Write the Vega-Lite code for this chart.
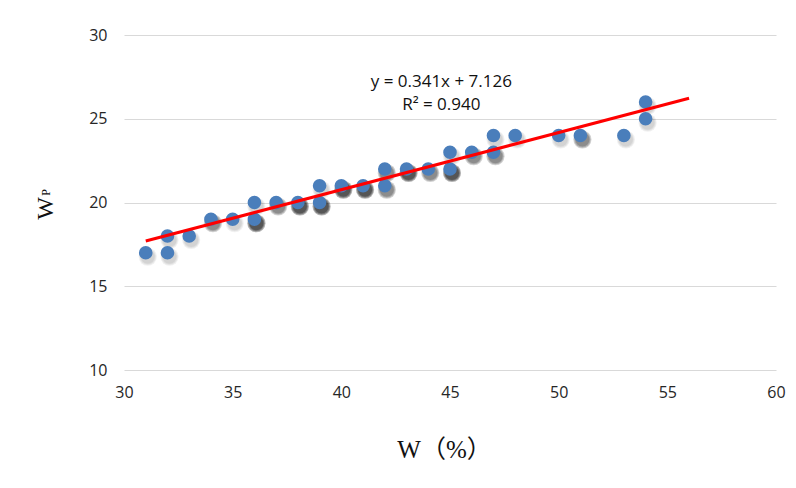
{
  "$schema": "https://vega.github.io/schema/vega-lite/v6.json",
  "width": 652,
  "height": 335,
  "autosize": "none",
  "padding": {"left": 124, "top": 35, "right": 20, "bottom": 118},
  "background": "white",
  "config": {"view": {"stroke": null}},
  "title": {"text": "P", "orient": "left", "anchor": "middle", "font": "Liberation Serif", "fontSize": 12, "fontWeight": "normal", "color": "#111111", "offset": -19, "dx": 10},
  "datasets": {
    "pts": [
      {"w": 31, "wp": 17, "n": 1}, {"w": 32, "wp": 17, "n": 1}, {"w": 32, "wp": 18, "n": 1},
      {"w": 33, "wp": 18, "n": 1}, {"w": 34, "wp": 19, "n": 2}, {"w": 35, "wp": 19, "n": 1},
      {"w": 36, "wp": 19, "n": 3}, {"w": 36, "wp": 20, "n": 1}, {"w": 37, "wp": 20, "n": 2},
      {"w": 38, "wp": 20, "n": 3}, {"w": 39, "wp": 20, "n": 3}, {"w": 39, "wp": 21, "n": 1},
      {"w": 40, "wp": 21, "n": 3}, {"w": 41, "wp": 21, "n": 3}, {"w": 42, "wp": 21, "n": 2},
      {"w": 42, "wp": 22, "n": 2}, {"w": 43, "wp": 22, "n": 3}, {"w": 44, "wp": 22, "n": 2},
      {"w": 45, "wp": 22, "n": 3}, {"w": 45, "wp": 23, "n": 1}, {"w": 46, "wp": 23, "n": 2},
      {"w": 47, "wp": 23, "n": 2}, {"w": 47, "wp": 24, "n": 1}, {"w": 48, "wp": 24, "n": 1},
      {"w": 50, "wp": 24, "n": 1}, {"w": 51, "wp": 24, "n": 2}, {"w": 53, "wp": 24, "n": 1},
      {"w": 54, "wp": 25, "n": 1}, {"w": 54, "wp": 26, "n": 1}
    ],
    "fit": [{"w": 31, "wp": 17.697}, {"w": 56, "wp": 26.222}],
    "eq": [{"w": 44.6, "wp": 27.2, "label": "y = 0.341x + 7.126"}, {"w": 44.6, "wp": 25.85, "label": "R² = 0.940"}]
  },
  "encoding": {
    "x": {"field": "w", "type": "quantitative",
      "scale": {"domain": [30, 60], "nice": false, "zero": false},
      "axis": {"values": [30, 35, 40, 45, 50, 55, 60], "domain": false, "ticks": false, "grid": false, "labelFlush": false,
        "labelFont": "Open Sans", "labelFontSize": 16, "labelColor": "#262626", "labelPadding": 14,
        "title": "W（%）", "titleFont": "Liberation Serif, Noto Sans CJK SC", "titleFontSize": 25,
        "titleFontWeight": "normal", "titleColor": "#111111", "titlePadding": 37, "titleX": 320}},
    "y": {"field": "wp", "type": "quantitative",
      "scale": {"domain": [10, 30], "nice": false, "zero": false},
      "axis": {"values": [10, 15, 20, 25, 30], "domain": false, "ticks": false, "labelFlush": false,
        "gridColor": "#d9d9d9", "gridWidth": 1.2,
        "labelFont": "Open Sans", "labelFontSize": 16, "labelColor": "#262626", "labelPadding": 17,
        "title": "W", "titleFont": "Liberation Serif", "titleFontSize": 24, "titleY": 173,
        "titleFontWeight": "normal", "titleColor": "#111111", "titlePadding": 31}}
  },
  "layer": [
    {
      "data": {"name": "pts"},
      "mark": {"type": "circle", "color": "black", "size": 330, "xOffset": 2, "yOffset": 4},
      "encoding": {
        "opacity": {"field": "n", "type": "quantitative", "scale": {"domain": [1, 3], "range": [0.06, 0.3]}, "legend": null}
      }
    },
    {
      "data": {"name": "pts"},
      "mark": {"type": "circle", "color": "black", "size": 260, "xOffset": 2, "yOffset": 4},
      "encoding": {
        "opacity": {"field": "n", "type": "quantitative", "scale": {"domain": [1, 3], "range": [0.1, 0.55]}, "legend": null}
      }
    },
    {
      "data": {"name": "pts"},
      "mark": {"type": "circle", "color": "black", "size": 200, "xOffset": 2, "yOffset": 4},
      "encoding": {
        "opacity": {"field": "n", "type": "quantitative", "scale": {"domain": [1, 3], "range": [0.15, 0.9]}, "legend": null}
      }
    },
    {
      "data": {"name": "pts"},
      "mark": {"type": "circle", "color": "#4a7ebb", "size": 185, "opacity": 1}
    },
    {
      "data": {"name": "fit"},
      "mark": {"type": "line", "color": "#ff0000", "strokeWidth": 3}
    },
    {
      "data": {"name": "eq"},
      "mark": {"type": "text", "font": "Open Sans", "fontSize": 17, "color": "#111111", "align": "center", "baseline": "middle"},
      "encoding": {"text": {"field": "label"}}
    }
  ]
}
